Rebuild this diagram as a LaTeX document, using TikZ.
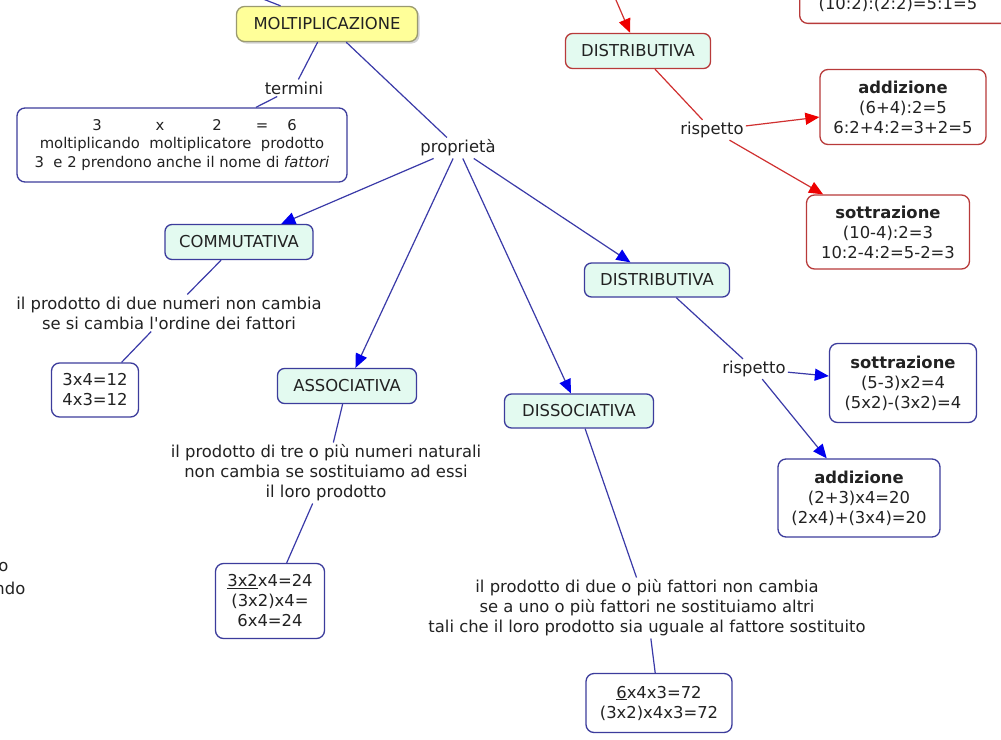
\documentclass[tikz,border=0pt]{standalone}
\usepackage{fontspec}
\setmainfont{DejaVu Sans}
\usetikzlibrary{arrows.meta,shadows}
\definecolor{lineblue}{HTML}{3A3AA8}
\definecolor{tipblue}{HTML}{0000EE}
\definecolor{boxblue}{HTML}{3C3C9C}
\definecolor{boxred}{HTML}{B83A3A}
\definecolor{linered}{HTML}{D03030}
\definecolor{tipred}{HTML}{EE0000}
\definecolor{mint}{HTML}{E3FAF0}
\definecolor{yel}{HTML}{FFFF99}
\definecolor{yelborder}{HTML}{9A9A70}
\definecolor{txt}{HTML}{222222}
\begin{document}
\begin{tikzpicture}[x=1pt,y=-1pt,
  every node/.append style={text=txt, font=\fontsize{16.4}{20}\selectfont},
  lbl/.style={inner sep=2pt, align=center},
  concept/.style={draw=boxblue, fill=mint, line width=1.3pt, rounded corners=7pt, inner sep=0pt, align=center},
  conceptred/.style={draw=boxred, fill=mint, line width=1.3pt, rounded corners=7pt, inner sep=0pt, align=center},
  wbox/.style={draw=boxblue, fill=white, line width=1.3pt, rounded corners=8pt, inner sep=0pt, align=center},
  rbox/.style={draw=boxred, fill=white, line width=1.3pt, rounded corners=8pt, inner sep=0pt, align=center},
  ybox/.style={draw=yelborder, fill=yel, line width=1.3pt, rounded corners=8pt, inner sep=0pt, align=center,
    drop shadow={opacity=0.35, shadow xshift=2pt, shadow yshift=-2pt}},
  bl/.style={draw=lineblue, line width=1.2pt},
  blarrow/.style={bl, -{Triangle[length=14pt,width=12pt,color=tipblue]}},
  rd/.style={draw=linered, line width=1.2pt},
  rdarrow/.style={rd, -{Triangle[length=14pt,width=12pt,color=tipred]}}
]
\useasboundingbox (0,0) rectangle (1001,739);
\fill[white] (0,0) rectangle (1001,739);

% off-picture ends
\coordinate (c1) at (240,-10);
\coordinate (c2) at (603,-30);

% nodes
\node[ybox, minimum width=181pt, minimum height=35pt] (molt) at (327,24) {MOLTIPLICAZIONE};
\node[lbl] (termini) at (294,88) {termini};
\node[wbox, font=\fontsize{14.8}{18.5}\selectfont, minimum width=330pt, minimum height=74pt] (tbox) at (182,145)
  {\hspace*{25pt}3\hspace{54pt}x\hspace{48pt}2\hspace{34pt}=\hspace{19pt}6\\
   moltiplicando\ \ moltiplicatore\ \ prodotto\\
   3\ \ e 2 prendono anche il nome di \textit{fattori}};
\node[lbl] (prop) at (458,148) {proprietà};

\node[concept, minimum width=148pt, minimum height=35pt] (commut) at (239,242) {COMMUTATIVA};
\node[lbl] (ctext) at (169,313) {il prodotto di due numeri non cambia\\se si cambia l\textquotesingle ordine dei fattori};
\node[wbox, minimum width=87pt, minimum height=54pt] (cbox) at (95,390) {3x4=12\\4x3=12};

\node[concept, minimum width=139pt, minimum height=35pt] (assoc) at (347,386) {ASSOCIATIVA};
\node[lbl] (atext) at (326,473) {il prodotto di tre o più numeri naturali\\non cambia se sostituiamo ad essi\\il loro prodotto};
\node[wbox, minimum width=109pt, minimum height=75pt] (abox) at (270,601) {\underline{3x2}x4=24\\(3x2)x4=\\6x4=24};

\node[concept, minimum width=149pt, minimum height=34pt] (dissoc) at (579,411) {DISSOCIATIVA};
\node[lbl] (dtext) at (647,608) {il prodotto di due o più fattori non cambia\\se a uno o più fattori ne sostituiamo altri\\tali che il loro prodotto sia uguale al fattore sostituito};
\node[wbox, minimum width=146pt, minimum height=59pt] (dbox) at (659,703) {\underline{6}x4x3=72\\(3x2)x4x3=72};

\node[concept, minimum width=145pt, minimum height=34pt] (distb) at (657,280) {DISTRIBUTIVA};
\node[lbl] (rispb) at (754,369) {rispetto};
\node[wbox, minimum width=147pt, minimum height=79pt] (sottb) at (903,383) {\textbf{sottrazione}\\(5-3)x2=4\\(5x2)-(3x2)=4};
\node[wbox, minimum width=162pt, minimum height=78pt] (addb) at (859,498) {\textbf{addizione}\\(2+3)x4=20\\(2x4)+(3x4)=20};

\node[conceptred, minimum width=145pt, minimum height=35pt] (distr) at (638,51) {DISTRIBUTIVA};
\node[lbl] (rispr) at (712,130) {rispetto};
\node[rbox, minimum width=166pt, minimum height=75pt] (addr) at (903,107) {\textbf{addizione}\\(6+4):2=5\\6:2+4:2=3+2=5};
\node[rbox, minimum width=163pt, minimum height=74pt] (sottr) at (888,232) {\textbf{sottrazione}\\(10-4):2=3\\10:2-4:2=5-2=3};
\node[rbox, anchor=south west, inner xsep=19pt, inner ysep=11.5pt, text width=180pt, align=left] (divr) at (799,24) {(10:2):(2:2)=5:1=5};

\node[inner sep=0pt, anchor=east] (frag1) at (8.5,567) {o};
\node[inner sep=0pt, anchor=east] (frag2) at (25.5,588) {ndo};

% connectors
\draw[bl] (c1) -- (molt);
\draw[bl] (molt) -- (termini);
\draw[bl] (termini) -- (tbox);
\draw[bl] (molt) -- (prop);
\draw[blarrow] (prop) -- (commut);
\draw[blarrow] (prop) -- (assoc);
\draw[blarrow] (prop) -- (dissoc);
\draw[blarrow] (prop) -- (distb);
\draw[bl] (commut) -- (ctext);
\draw[bl] (ctext) -- (cbox);
\draw[bl] (assoc) -- (atext);
\draw[bl] (atext) -- (abox);
\draw[bl] (dissoc) -- (dtext);
\draw[bl] (dtext) -- (dbox);
\draw[bl] (distb) -- (rispb);
\draw[blarrow] (rispb) -- (sottb);
\draw[blarrow] (rispb) -- (addb);
\draw[rdarrow] (c2) -- (distr);
\draw[rd] (distr) -- (rispr);
\draw[rdarrow] (rispr) -- (addr);
\draw[rdarrow] (rispr) -- (sottr);
\end{tikzpicture}
\end{document}
